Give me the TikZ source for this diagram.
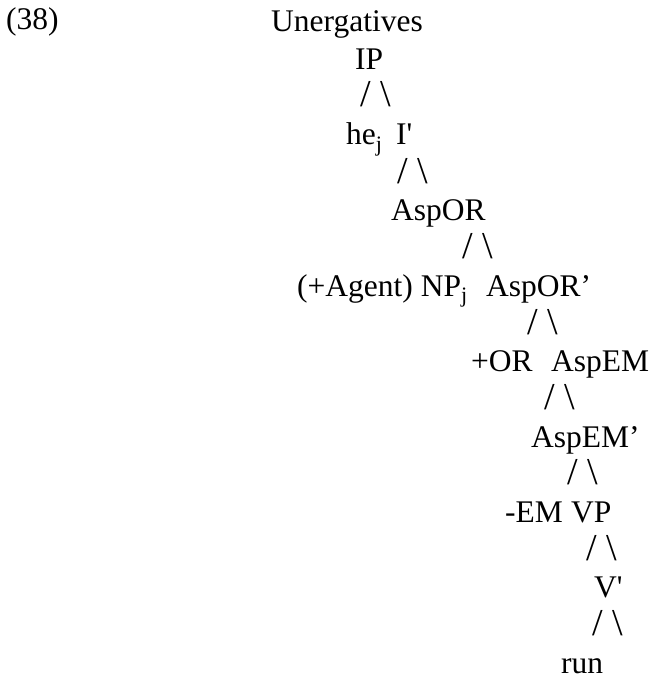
\documentclass[tikz,border=0pt]{standalone}
\usepackage{fontspec}
\setmainfont{Liberation Serif}
\newcommand{\sq}{\textquotesingle}
\newcommand{\fork}{/ \textbackslash}

\begin{document}
\begin{tikzpicture}[x=1pt, y=-1pt,
  lbl/.style={anchor=base west, inner sep=0pt, font=\fontsize{31.5}{36}\selectfont},
  split/.style={lbl, font=\fontsize{38}{40}\selectfont}]
\useasboundingbox (0,0) rectangle (651,679);

\node[lbl] (ex) at (6,30) {(38)};
\node[lbl] (title) at (271,32) {Unergatives};

\node[lbl] (ip) at (355,70) {IP};
\node[split] (br1) at (360,107) {\fork};
\node[lbl] (he) at (346,145) {he\textsubscript{j}};
\node[lbl] (ibar) at (396,145) {I\sq};
\node[split] (br2) at (397,183) {\fork};
\node[lbl] (aspor) at (391,220) {AspOR};
\node[split] (br3) at (462,258) {\fork};
\node[lbl] (agent) at (297,296) {(+Agent) NP\textsubscript{j}};
\node[lbl] (asporbar) at (486,296) {AspOR’};
\node[split] (br4) at (527,334) {\fork};
\node[lbl] (orplus) at (471,371) {+OR};
\node[lbl] (aspem) at (551,371) {AspEM};
\node[split] (br5) at (544,409) {\fork};
\node[lbl] (aspembar) at (531,447) {AspEM’};
\node[split] (br6) at (567,484) {\fork};
\node[lbl] (em) at (505,522) {-EM};
\node[lbl] (vp) at (571,522) {VP};
\node[split] (br7) at (586,560) {\fork};
\node[lbl] (vbar) at (594,597) {V\sq};
\node[split] (br8) at (592,635) {\fork};
\node[lbl] (run) at (561,673) {run};
\end{tikzpicture}
\end{document}
